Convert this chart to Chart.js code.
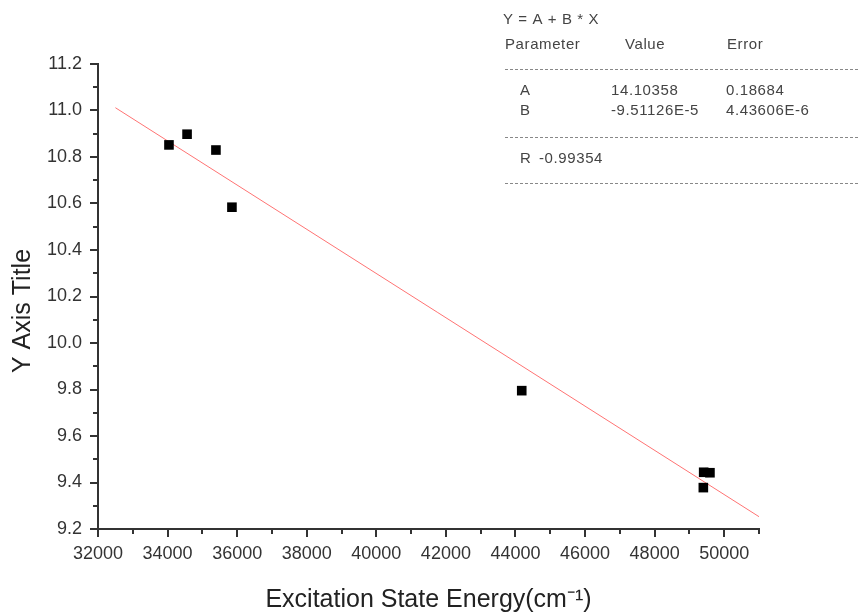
<!DOCTYPE html>
<html>
<head>
<meta charset="utf-8">
<script src="https://cdn.jsdelivr.net/npm/chart.js@4"></script>
<style>
  html, body { margin: 0; padding: 0; background: #fff; }
  #wrap { width: 858px; height: 615px; }
</style>
</head>
<body>
<div id="wrap"><canvas id="myChart" width="858" height="615"></canvas></div>
<script>
// measured points (x = energy, y = value)
var energies = [34040, 34560, 35390, 35850, 44180, 49410, 49590, 49400];
var values   = [10.852, 10.898, 10.830, 10.584, 9.795, 9.444, 9.442, 9.378];

// fitted line ends as drawn
var fitX = [32500, 51000];
var fitY = [11.012, 9.253];

var xTicks = [32000, 34000, 36000, 38000, 40000, 42000, 44000, 46000, 48000, 50000];
var yTicks = [9.2, 9.4, 9.6, 9.8, 10.0, 10.2, 10.4, 10.6, 10.8, 11.0, 11.2];

// fit table
var fitFormula = "Y = A + B * X";
var tableHead = ["Parameter", "Value", "Error"];
var paramNames = ["A", "B"];
var paramValues = ["14.10358", "-9.51126E-5"];
var paramErrors = ["0.18684", "4.43606E-6"];
var rValue = "-0.99354";

var FONT = "'Liberation Sans', Arial, sans-serif";
var AXIS = "#333";

var points = [];
for (let i = 0; i < energies.length; i++) {
    points.push({x: energies[i], y: values[i]});
}
var fitLine = [];
for (let i = 0; i < fitX.length; i++) {
    fitLine.push({x: fitX[i], y: fitY[i]});
}

// axis ticks, long at labels and short in between
var tickMarks = {
    id: "tickMarks",
    afterDraw: function (chart) {
        var ctx = chart.ctx;
        var xs = chart.scales.x, ys = chart.scales.y;
        ctx.save();
        ctx.strokeStyle = AXIS;
        ctx.lineWidth = 2;
        ctx.beginPath();
        for (let v = 32000; v <= 51000; v += 1000) {
            var px = Math.round(xs.getPixelForValue(v));
            var len = (v % 2000 == 0) ? 8 : 5;
            ctx.moveTo(px, ys.bottom);
            ctx.lineTo(px, ys.bottom + len);
        }
        for (let k = 0; k <= 20; k++) {
            var v2 = 9.2 + k * 0.1;
            var py = Math.round(ys.getPixelForValue(v2));
            var len2 = (k % 2 == 0) ? 8 : 5;
            ctx.moveTo(xs.left, py);
            ctx.lineTo(xs.left - len2, py);
        }
        ctx.stroke();

        // y title, sits a bit below the middle in the original
        ctx.fillStyle = "#222";
        ctx.font = "25px " + FONT;
        ctx.textAlign = "center";
        ctx.textBaseline = "middle";
        ctx.translate(23, 311);
        ctx.rotate(-Math.PI / 2);
        ctx.fillText("Y Axis Title", 0, 0);
        ctx.restore();
    }
};

// fit results box in upper right
var fitTable = {
    id: "fitTable",
    afterDraw: function (chart) {
        var ctx = chart.ctx;
        ctx.save();
        ctx.fillStyle = "#444";
        ctx.font = "15px " + FONT;
        ctx.letterSpacing = "0.6px";
        ctx.textBaseline = "middle";
        ctx.fillText(fitFormula, 503, 20);
        ctx.fillText(tableHead[0], 505, 45);
        ctx.fillText(tableHead[1], 625, 45);
        ctx.fillText(tableHead[2], 727, 45);
        for (let i = 0; i < paramNames.length; i++) {
            var ry = 91 + i * 20;
            ctx.fillText(paramNames[i], 520, ry);
            ctx.fillText(paramValues[i], 611, ry);
            ctx.fillText(paramErrors[i], 726, ry);
        }
        ctx.fillText("R", 520, 159);
        ctx.fillText(rValue, 539, 159);

        ctx.strokeStyle = "#888";
        ctx.lineWidth = 1;
        ctx.setLineDash([3, 2]);
        [69.5, 137.5, 183.5].forEach(function (ly) {
            ctx.beginPath();
            ctx.moveTo(505, ly);
            ctx.lineTo(858, ly);
            ctx.stroke();
        });
        ctx.restore();
    }
};

var chart = new Chart(document.getElementById("myChart").getContext("2d"), {
    type: "scatter",
    data: {
        datasets: [
            {
                label: "data",
                data: points,
                pointStyle: "rect",
                pointRadius: 6.8,
                pointHoverRadius: 6.8,
                backgroundColor: "#000",
                borderColor: "#000",
                borderWidth: 0,
                order: 1
            },
            {
                label: "fit",
                data: fitLine,
                showLine: true,
                borderColor: "rgb(255,115,115)",
                borderWidth: 1,
                pointRadius: 0,
                order: 2
            }
        ]
    },
    options: {
        responsive: false,
        animation: false,
        events: [],
        layout: { padding: { left: 0, top: 64, right: 99, bottom: 0 } },
        plugins: {
            legend: { display: false },
            tooltip: { enabled: false }
        },
        scales: {
            x: {
                type: "linear",
                min: 32000,
                max: 51000,
                afterFit: function (s) { s.height = 86; },
                afterBuildTicks: function (s) {
                    s.ticks = xTicks.map(function (v) { return {value: v}; });
                },
                grid: { display: false },
                border: { display: true, color: AXIS, width: 2 },
                ticks: {
                    color: "#333",
                    font: { family: FONT, size: 18 },
                    padding: 6,
                    maxRotation: 0,
                    autoSkip: false,
                    callback: function (v) { return String(v); }
                },
                title: {
                    display: true,
                    text: "Excitation State Energy(cm\u207B\u00B9)",
                    color: "#222",
                    font: { family: FONT, size: 25 },
                    padding: { top: 0, bottom: 0 }
                }
            },
            y: {
                type: "linear",
                min: 9.2,
                max: 11.2,
                afterFit: function (s) { s.width = 98; },
                afterBuildTicks: function (s) {
                    s.ticks = yTicks.map(function (v) { return {value: v}; });
                },
                grid: { display: false },
                border: { display: true, color: AXIS, width: 2 },
                ticks: {
                    color: "#333",
                    font: { family: FONT, size: 18 },
                    padding: 8,
                    autoSkip: false,
                    callback: function (v) { return v.toFixed(1); }
                },
                title: { display: false }
            }
        }
    },
    plugins: [tickMarks, fitTable]
});
</script>
</body>
</html>
